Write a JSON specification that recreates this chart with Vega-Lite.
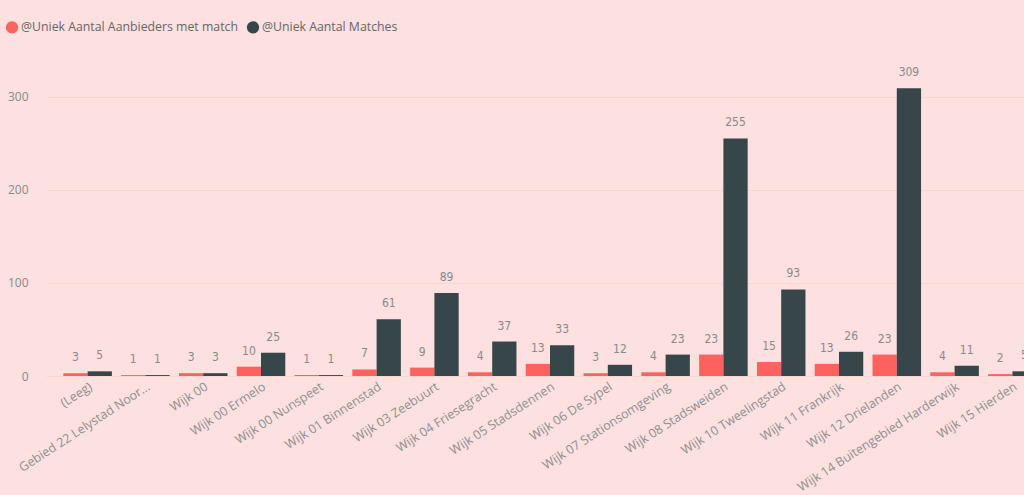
{
  "$schema": "https://vega.github.io/schema/vega-lite/v6.json",
  "autosize": {"type": "none"},
  "padding": {"left": 46, "top": 50, "right": 0, "bottom": 119},
  "width": 1008,
  "height": 326,
  "background": "#fde0e0",
  "config": {
    "view": {"stroke": null},
    "font": "Open Sans"
  },
  "data": {
    "values": [
      {"wijk": "(Leeg)", "serie": "@Uniek Aantal Aanbieders met match", "waarde": 3},
      {"wijk": "(Leeg)", "serie": "@Uniek Aantal Matches", "waarde": 5},
      {"wijk": "Gebied 22 Lelystad Noor...", "serie": "@Uniek Aantal Aanbieders met match", "waarde": 1},
      {"wijk": "Gebied 22 Lelystad Noor...", "serie": "@Uniek Aantal Matches", "waarde": 1},
      {"wijk": "Wijk 00", "serie": "@Uniek Aantal Aanbieders met match", "waarde": 3},
      {"wijk": "Wijk 00", "serie": "@Uniek Aantal Matches", "waarde": 3},
      {"wijk": "Wijk 00 Ermelo", "serie": "@Uniek Aantal Aanbieders met match", "waarde": 10},
      {"wijk": "Wijk 00 Ermelo", "serie": "@Uniek Aantal Matches", "waarde": 25},
      {"wijk": "Wijk 00 Nunspeet", "serie": "@Uniek Aantal Aanbieders met match", "waarde": 1},
      {"wijk": "Wijk 00 Nunspeet", "serie": "@Uniek Aantal Matches", "waarde": 1},
      {"wijk": "Wijk 01 Binnenstad", "serie": "@Uniek Aantal Aanbieders met match", "waarde": 7},
      {"wijk": "Wijk 01 Binnenstad", "serie": "@Uniek Aantal Matches", "waarde": 61},
      {"wijk": "Wijk 03 Zeebuurt", "serie": "@Uniek Aantal Aanbieders met match", "waarde": 9},
      {"wijk": "Wijk 03 Zeebuurt", "serie": "@Uniek Aantal Matches", "waarde": 89},
      {"wijk": "Wijk 04 Friesegracht", "serie": "@Uniek Aantal Aanbieders met match", "waarde": 4},
      {"wijk": "Wijk 04 Friesegracht", "serie": "@Uniek Aantal Matches", "waarde": 37},
      {"wijk": "Wijk 05 Stadsdennen", "serie": "@Uniek Aantal Aanbieders met match", "waarde": 13},
      {"wijk": "Wijk 05 Stadsdennen", "serie": "@Uniek Aantal Matches", "waarde": 33},
      {"wijk": "Wijk 06 De Sypel", "serie": "@Uniek Aantal Aanbieders met match", "waarde": 3},
      {"wijk": "Wijk 06 De Sypel", "serie": "@Uniek Aantal Matches", "waarde": 12},
      {"wijk": "Wijk 07 Stationsomgeving", "serie": "@Uniek Aantal Aanbieders met match", "waarde": 4},
      {"wijk": "Wijk 07 Stationsomgeving", "serie": "@Uniek Aantal Matches", "waarde": 23},
      {"wijk": "Wijk 08 Stadsweiden", "serie": "@Uniek Aantal Aanbieders met match", "waarde": 23},
      {"wijk": "Wijk 08 Stadsweiden", "serie": "@Uniek Aantal Matches", "waarde": 255},
      {"wijk": "Wijk 10 Tweelingstad", "serie": "@Uniek Aantal Aanbieders met match", "waarde": 15},
      {"wijk": "Wijk 10 Tweelingstad", "serie": "@Uniek Aantal Matches", "waarde": 93},
      {"wijk": "Wijk 11 Frankrijk", "serie": "@Uniek Aantal Aanbieders met match", "waarde": 13},
      {"wijk": "Wijk 11 Frankrijk", "serie": "@Uniek Aantal Matches", "waarde": 26},
      {"wijk": "Wijk 12 Drielanden", "serie": "@Uniek Aantal Aanbieders met match", "waarde": 23},
      {"wijk": "Wijk 12 Drielanden", "serie": "@Uniek Aantal Matches", "waarde": 309},
      {"wijk": "Wijk 14 Buitengebied Harderwijk", "serie": "@Uniek Aantal Aanbieders met match", "waarde": 4},
      {"wijk": "Wijk 14 Buitengebied Harderwijk", "serie": "@Uniek Aantal Matches", "waarde": 11},
      {"wijk": "Wijk 15 Hierden", "serie": "@Uniek Aantal Aanbieders met match", "waarde": 2},
      {"wijk": "Wijk 15 Hierden", "serie": "@Uniek Aantal Matches", "waarde": 5}
    ]
  },
  "encoding": {
    "x": {
      "field": "wijk",
      "type": "nominal",
      "sort": null,
      "title": null,
      "scale": {"paddingInner": 0.16, "paddingOuter": 0.3},
      "axis": {
        "labelAngle": -33,
        "labelAlign": "right",
        "labelBaseline": "top",
        "labelFontSize": 12.5,
        "labelColor": "#8f8f8f",
        "labelLimit": 300,
        "labelPadding": 4,
        "domain": false,
        "ticks": false
      }
    },
    "xOffset": {"field": "serie", "type": "nominal"},
    "y": {
      "field": "waarde",
      "type": "quantitative",
      "title": null,
      "scale": {"domain": [0, 350], "nice": false},
      "axis": {
        "values": [0, 100, 200, 300],
        "labelFontSize": 12,
        "labelColor": "#8a8a8a",
        "labelPadding": 18,
        "domain": false,
        "ticks": false,
        "gridColor": "#f7d5d5",
        "gridWidth": 1
      }
    }
  },
  "layer": [
    {
      "mark": {"type": "bar"},
      "encoding": {
        "color": {
          "field": "serie",
          "type": "nominal",
          "scale": {"range": ["#fd625e", "#374649"]},
          "legend": {
            "title": null,
            "orient": "none",
            "direction": "horizontal",
            "legendX": -41,
            "legendY": -30,
            "symbolType": "circle",
            "symbolSize": 150,
            "symbolOpacity": 1,
            "labelFontSize": 12.3,
            "labelColor": "#666666",
            "labelLimit": 400,
            "columnPadding": 8,
            "labelOffset": 2
          }
        }
      }
    },
    {
      "mark": {"type": "text", "dy": -9, "baseline": "bottom", "fontSize": 12, "color": "#8a8a8a", "font": "DejaVu Sans Condensed"},
      "encoding": {
        "text": {"field": "waarde", "type": "quantitative"}
      }
    }
  ]
}
